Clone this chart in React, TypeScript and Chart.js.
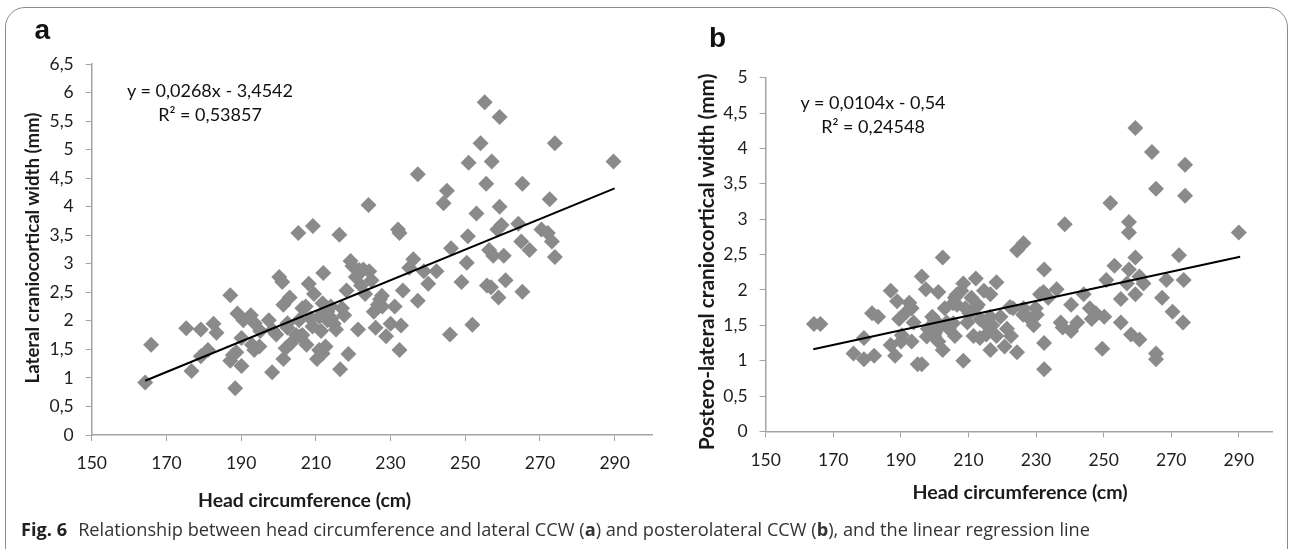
import React, { useEffect, useRef } from "react";
import { Chart, registerables } from "chart.js";

Chart.register(...registerables);

// ---------- data ----------
const xTickValues = [150, 170, 190, 210, 230, 250, 270, 290];
const yTickValuesA = [0, 0.5, 1, 1.5, 2, 2.5, 3, 3.5, 4, 4.5, 5, 5.5, 6, 6.5];
const yTickValuesB = [0, 0.5, 1, 1.5, 2, 2.5, 3, 3.5, 4, 4.5, 5];

// panel a: head circumference (cm) vs lateral craniocortical width (mm)
const lateralPoints: [number, number][] = [
  [164.3, 0.92], [165.9, 1.58], [175.3, 1.87], [176.7, 1.12], [179.2, 1.38], [179.2, 1.85],
  [181.1, 1.49], [182.6, 1.95], [183.4, 1.79], [187.1, 2.45], [187.1, 1.3], [187.8, 1.4],
  [188.4, 0.82], [188.7, 1.45], [189.0, 2.13], [190.1, 1.21], [190.1, 1.7], [190.6, 2.01],
  [192.6, 2.1], [192.9, 1.58], [193.5, 1.49], [193.6, 1.96], [194.9, 1.55], [195.1, 1.82],
  [197.4, 2.01], [198.3, 1.1], [198.4, 1.84], [199.4, 1.76], [200.2, 2.77], [201.0, 2.68],
  [201.3, 1.33], [201.9, 1.52], [201.3, 2.28], [202.4, 1.96], [203.0, 2.41], [202.4, 1.88],
  [203.4, 1.61], [204.7, 1.75], [205.5, 2.01], [205.3, 3.54], [205.8, 1.73], [206.4, 2.22],
  [206.4, 1.75], [207.3, 2.25], [207.5, 1.58], [208.1, 2.65], [208.6, 2.04], [209.1, 1.9],
  [209.2, 3.66], [209.5, 2.47], [210.3, 1.33], [210.9, 1.49], [210.9, 2.07], [211.4, 1.82],
  [211.8, 2.31], [211.8, 1.43], [212.0, 2.84], [212.6, 1.55], [213.1, 2.16], [213.1, 2.01],
  [214.0, 2.25], [214.2, 2.04], [214.8, 1.95], [215.4, 1.85], [216.3, 3.51], [216.5, 1.15],
  [217.0, 2.22], [217.6, 2.1], [218.2, 2.53], [218.7, 1.42], [219.3, 3.05], [219.8, 2.96],
  [220.7, 2.77], [221.3, 1.85], [221.6, 2.89], [222.1, 2.62], [222.7, 2.9], [223.2, 2.47],
  [224.1, 4.03], [224.3, 2.87], [224.9, 2.71], [225.5, 2.16], [226.0, 1.88], [226.6, 2.28],
  [227.2, 2.38], [227.7, 2.44], [227.8, 2.25], [228.8, 1.73], [230.0, 1.95], [231.1, 2.25],
  [232.0, 3.6], [232.4, 3.54], [232.4, 1.49], [232.8, 1.92], [233.3, 2.53], [235.0, 2.93],
  [236.1, 3.08], [237.3, 2.35], [237.3, 4.57], [238.9, 2.87], [240.1, 2.65], [242.3, 2.87],
  [244.2, 4.06], [245.1, 4.28], [245.9, 1.76], [246.2, 3.27], [249.0, 2.68], [250.4, 3.02],
  [250.7, 3.48], [250.9, 4.77], [251.9, 1.93], [253.0, 3.88], [254.1, 5.11], [255.2, 5.83],
  [255.6, 4.4], [255.8, 2.62], [256.4, 3.24], [256.9, 2.59], [257.1, 4.79], [257.5, 3.14],
  [258.6, 3.6], [258.9, 2.41], [259.2, 4.0], [259.2, 5.57], [259.7, 3.68], [260.3, 3.14],
  [260.8, 2.71], [264.2, 3.7], [265.0, 3.39], [265.3, 4.4], [265.3, 2.51], [267.2, 3.24],
  [270.4, 3.6], [272.1, 3.54], [272.6, 4.13], [273.2, 3.39], [274.0, 5.11], [274.0, 3.12],
  [289.7, 4.79],
];

// panel b: head circumference (cm) vs postero-lateral craniocortical width (mm)
const posterolateralPoints: [number, number][] = [
  [164.3, 1.52], [166.2, 1.52], [176.0, 1.1], [179.1, 1.32], [179.1, 1.02], [182.1, 1.07],
  [181.5, 1.67], [183.3, 1.62], [187.0, 1.99], [187.0, 1.22], [188.3, 1.07], [188.9, 1.84],
  [189.5, 1.59], [190.1, 1.27], [190.3, 1.36], [191.7, 1.69], [192.5, 1.82], [193.2, 1.74],
  [193.2, 1.27], [193.8, 1.54], [195.0, 0.95], [196.2, 0.95], [196.2, 2.19], [197.4, 2.01],
  [197.7, 1.34], [198.0, 1.45], [199.3, 1.62], [199.9, 1.35], [200.1, 1.57], [200.1, 1.39],
  [201.1, 1.97], [201.1, 1.27], [201.6, 1.48], [202.4, 2.46], [202.4, 1.15], [203.0, 1.74],
  [203.6, 1.54], [204.2, 1.45], [205.5, 1.81], [205.5, 1.53], [206.0, 1.35], [206.0, 1.89],
  [206.5, 1.93], [206.6, 1.79], [207.9, 1.99], [208.5, 1.0], [208.5, 2.09], [209.1, 1.74],
  [209.7, 1.54], [210.3, 1.67], [210.9, 1.89], [211.5, 1.35], [212.2, 2.16], [212.4, 1.76],
  [212.8, 1.79], [213.4, 1.59], [213.4, 1.32], [214.4, 1.55], [214.6, 1.99], [215.3, 1.37],
  [216.4, 1.62], [216.5, 1.15], [216.5, 1.94], [217.1, 1.5], [218.3, 2.11], [218.3, 1.35],
  [219.5, 1.62], [220.7, 1.2], [221.4, 1.45], [222.3, 1.76], [222.6, 1.35], [223.2, 1.74],
  [224.4, 1.12], [224.4, 2.56], [226.2, 1.65], [226.3, 2.66], [226.3, 1.74], [227.5, 1.62],
  [229.3, 1.5], [229.9, 1.74], [230.2, 1.65], [231.2, 1.94], [232.2, 1.97], [232.4, 2.29],
  [232.4, 1.25], [232.4, 0.88], [233.6, 1.89], [236.1, 2.01], [237.3, 1.54], [237.9, 1.47],
  [238.5, 2.93], [240.4, 1.79], [240.4, 1.42], [242.2, 1.54], [244.1, 1.94], [245.9, 1.74],
  [246.5, 1.59], [247.7, 1.67], [250.2, 1.62], [249.6, 1.17], [250.8, 2.14], [252.0, 3.23],
  [253.2, 2.34], [255.1, 1.87], [255.1, 1.54], [256.9, 2.09], [257.5, 2.96], [257.5, 2.81],
  [257.5, 2.29], [258.1, 1.37], [259.4, 2.46], [259.4, 1.94], [259.4, 4.29], [260.6, 2.19],
  [260.6, 1.3], [261.8, 2.09], [264.3, 3.95], [265.5, 3.43], [265.5, 1.1], [265.5, 1.02],
  [267.3, 1.89], [268.6, 2.14], [270.4, 1.69], [272.3, 2.49], [273.5, 1.54], [273.7, 2.14],
  [274.1, 3.77], [274.1, 3.33], [290.0, 2.81],
];

// regression line end points
const lateralTrend: [number, number][] = [[164.3, 0.95], [290, 4.32]];
const posterolateralTrend: [number, number][] = [[164.1, 1.16], [290.4, 2.47]];

// ---------- styles ----------
const AXIS_COLOR = "#a3a3a3";
const MARK_COLOR = "#8a8a8a";
const TICK_COLOR = "#1e1e1e";
const TICK_FONT = { family: "Lato", size: 17.5 };

type PanelProps = {
  points: [number, number][];
  trend: [number, number][];
  yTicks: number[];
  yMax: number;
  left: number;
  width: number;
  height: number;
  plotLeft: number;
  plotTop: number;
  plotRight: number;
  plotBottom: number;
};

function ScatterPanel(p: PanelProps) {
  const ref = useRef<HTMLCanvasElement>(null);
  useEffect(() => {
    const canvas = ref.current;
    if (!canvas) return;
    const chart = new Chart(canvas, {
      type: "scatter",
      data: {
        datasets: [
          {
            data: p.trend.map(([x, y]) => ({ x, y })),
            showLine: true,
            borderColor: "#000000",
            borderWidth: 2,
            pointRadius: 0,
            pointHoverRadius: 0,
            order: 0,
          },
          {
            data: p.points.map(([x, y]) => ({ x, y })),
            pointStyle: "rectRot",
            pointRadius: 8,
            pointHoverRadius: 8,
            backgroundColor: MARK_COLOR,
            borderColor: MARK_COLOR,
            borderWidth: 0,
            order: 1,
          },
        ],
      },
      options: {
        animation: false,
        responsive: false,
        events: [],
        layout: {
          padding: { left: 0, top: p.plotTop, right: p.width - p.plotRight, bottom: 0 },
        },
        plugins: { legend: { display: false }, tooltip: { enabled: false } },
        scales: {
          x: {
            type: "linear",
            min: 150,
            max: 300,
            afterBuildTicks: (s: any) => {
              s.ticks = xTickValues.map((v) => ({ value: v }));
            },
            afterFit: (s: any) => {
              s.height = p.height - p.plotBottom;
            },
            grid: {
              display: true,
              drawOnChartArea: false,
              drawTicks: true,
              tickLength: 6,
              color: AXIS_COLOR,
              lineWidth: 1,
            },
            border: { display: true, color: AXIS_COLOR, width: 1.5 },
            ticks: {
              padding: 12,
              color: TICK_COLOR,
              font: TICK_FONT,
              maxRotation: 0,
              autoSkip: false,
              callback: (v: any) => String(v),
            },
          },
          y: {
            type: "linear",
            min: 0,
            max: p.yMax,
            afterBuildTicks: (s: any) => {
              s.ticks = p.yTicks.map((v) => ({ value: v }));
            },
            afterFit: (s: any) => {
              s.width = p.plotLeft;
            },
            grid: {
              display: true,
              drawOnChartArea: false,
              drawTicks: true,
              tickLength: 6,
              color: AXIS_COLOR,
              lineWidth: 1,
            },
            border: { display: true, color: AXIS_COLOR, width: 1.5 },
            ticks: {
              padding: 12,
              color: TICK_COLOR,
              font: TICK_FONT,
              autoSkip: false,
              callback: (v: any) => String(v).replace(".", ","),
            },
          },
        },
      },
    } as any);
    return () => chart.destroy();
  }, []);
  return (
    <canvas
      ref={ref}
      width={p.width}
      height={p.height}
      style={{ position: "absolute", left: p.left, top: 0, width: p.width, height: p.height }}
    />
  );
}

const titleStyle: React.CSSProperties = {
  position: "absolute",
  fontFamily: "Lato",
  fontWeight: 700,
  lineHeight: "1.2",
  color: "#1a1a1a",
  whiteSpace: "nowrap",
};

const eqStyle: React.CSSProperties = {
  position: "absolute",
  fontFamily: "Lato",
  fontSize: 18,
  lineHeight: "24px",
  color: "#111",
  whiteSpace: "nowrap",
  textAlign: "center",
  transform: "translateX(-50%)",
};

const letterStyle: React.CSSProperties = {
  position: "absolute",
  fontFamily: "'Liberation Sans', Arial, sans-serif",
  fontWeight: 700,
  fontSize: 28,
  lineHeight: "28px",
  color: "#111",
};

export default function App() {
  return (
    <div
      style={{
        position: "absolute",
        left: 0,
        top: 0,
        width: 1290,
        height: 549,
        overflow: "hidden",
        background: "#ffffff",
      }}
    >
      <div
        style={{
          position: "absolute",
          left: 5,
          top: 7,
          width: 1283,
          height: 620,
          border: "1.3px solid #8c8c8c",
          borderRadius: 20,
          boxSizing: "border-box",
        }}
      />
      <ScatterPanel
        points={lateralPoints}
        trend={lateralTrend}
        yTicks={yTickValuesA}
        yMax={6.5}
        left={0}
        width={660}
        height={549}
        plotLeft={91.75}
        plotTop={64}
        plotRight={654}
        plotBottom={435}
      />
      <ScatterPanel
        points={posterolateralPoints}
        trend={posterolateralTrend}
        yTicks={yTickValuesB}
        yMax={5}
        left={660}
        width={630}
        height={549}
        plotLeft={105.6}
        plotTop={77.7}
        plotRight={612.6}
        plotBottom={431.4}
      />

      <div style={{ ...letterStyle, left: 34.5, top: 16.3 }}>a</div>
      <div style={{ ...letterStyle, left: 709, top: 23.6 }}>b</div>

      <div style={{ ...eqStyle, left: 210, top: 78 }}>
        y = 0,0268x - 3,4542
        <br />
        R² = 0,53857
      </div>
      <div style={{ ...eqStyle, left: 873, top: 90 }}>
        y = 0,0104x - 0,54
        <br />
        R² = 0,24548
      </div>

      <div
        style={{
          ...titleStyle,
          fontSize: 18.6,
          left: 31.6,
          top: 247.7,
          transform: "translate(-50%, -50%) rotate(-90deg)",
        }}
      >
        Lateral craniocortical width (mm)
      </div>
      <div style={{ ...titleStyle, fontSize: 19.4, left: 304.5, top: 500, transform: "translate(-50%, -50%)" }}>
        Head circumference (cm)
      </div>
      <div
        style={{
          ...titleStyle,
          fontSize: 20.8,
          left: 706.3,
          top: 261.7,
          transform: "translate(-50%, -50%) rotate(-90deg)",
        }}
      >
        Postero-lateral craniocortical width (mm)
      </div>
      <div style={{ ...titleStyle, fontSize: 19.6, left: 1020, top: 492, transform: "translate(-50%, -50%)" }}>
        Head circumference (cm)
      </div>

      <div
        style={{
          position: "absolute",
          left: 21,
          top: 518,
          fontFamily: "'Open Sans', sans-serif",
          fontSize: 18.2,
          lineHeight: "22px",
          color: "#333",
          whiteSpace: "nowrap",
        }}
      >
        <span style={{ fontWeight: 700, color: "#222", marginRight: 11 }}>Fig. 6</span>
        Relationship between head circumference and lateral CCW (<b>a</b>) and posterolateral CCW (<b>b</b>), and the
        linear regression line
      </div>
    </div>
  );
}
